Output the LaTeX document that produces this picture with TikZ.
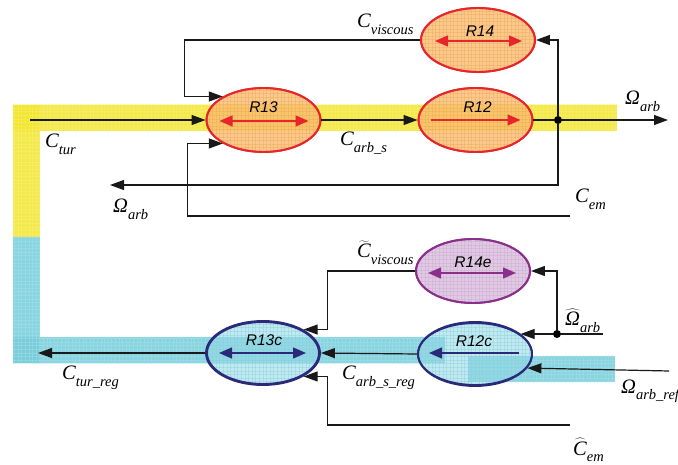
\documentclass[tikz,border=0pt]{standalone}
\usepackage{fontspec}
\newfontfamily\rsans{Liberation Sans}
\newfontfamily\lser{Liberation Serif}
\usetikzlibrary{arrows.meta,shapes.geometric,calc}
\definecolor{redB}{HTML}{E6262B}
\definecolor{orangeF}{HTML}{F9BC72}
\definecolor{orangeG}{HTML}{F0A048}
\definecolor{yelF}{HTML}{F2E52A}
\definecolor{yelG}{HTML}{F8F07A}
\definecolor{cyanF}{HTML}{76CCDA}
\definecolor{cyanG}{HTML}{A8E2EA}
\definecolor{cyanE}{HTML}{9ADBE6}
\definecolor{navy}{HTML}{2B2A7A}
\definecolor{purB}{HTML}{8B2F8B}
\definecolor{purF}{HTML}{DDC4E0}
\definecolor{purG}{HTML}{C9A6CF}
% grid texture over a clipped region: #1 clip path, #2 style, #3 x0, #4 x1, #5 y0, #6 y1
\newcommand{\gridover}[6]{\begin{scope}\clip #1;
  \foreach \gx in {#3,...,#4} {\draw[#2, line width=0.35pt] (\gx*3.6,#5*3.6) -- (\gx*3.6,#6*3.6);}
  \foreach \gy in {#5,...,#6} {\draw[#2, line width=0.35pt] (#3*3.6,\gy*3.6) -- (#4*3.6,\gy*3.6);}
\end{scope}}
\newcommand{\sbs}[1]{\raisebox{-0.33em}{\fontsize{14.5}{14.5}\selectfont #1}}
\newcommand{\ic}{\mbox{\lser\itshape C}}
\newcommand{\iom}{\mbox{\lser\itshape Ω}}
\begin{document}
\begin{tikzpicture}[x=1pt,y=-1pt,
  conn/.style={line width=1.2pt, draw=black!90},
  arr/.style={conn,-{Triangle[length=14pt,width=10pt]}},
  ell/.style={ellipse, minimum width=114pt, minimum height=64pt, inner sep=0pt, line width=1.9pt},
  oell/.style={ell, draw=redB, fill=orangeF, fill opacity=0.8},
  cell/.style={ell, draw=navy, fill=cyanE, fill opacity=0.6},
  pell/.style={ell, draw=purB, fill=purF, fill opacity=0.9},
  lab/.style={anchor=base west, inner sep=0pt, font=\lser\itshape\fontsize{20.5}{21}\selectfont},
  rlab/.style={font=\rsans\itshape\fontsize{15.5}{15.5}\selectfont, inner sep=0pt},
  dbl/.style={line width=1.5pt, {Triangle[length=13pt,width=11pt]}-{Triangle[length=13pt,width=11pt]}},
  sgl/.style={line width=1.5pt, -{Triangle[length=13pt,width=11pt]}},
  dot/.style={circle, fill=black, inner sep=0pt, minimum size=8pt},
]
\useasboundingbox (0,0) rectangle (678,465);
% bands
\fill[yelF, fill opacity=0.85] (13,105) rectangle (617,131);
\fill[yelF, fill opacity=0.85] (13,105) rectangle (40,237);
\fill[cyanF, fill opacity=0.85] (13,237) rectangle (40,363);
\fill[cyanF, fill opacity=0.85] (13,337) rectangle (445,363);
\fill[cyanF, fill opacity=0.85] (468,356) rectangle (615,382);
\gridover{(13,105) rectangle (617,131)}{yelG, opacity=0.45}{3}{172}{29}{37}
\gridover{(13,131) rectangle (40,237)}{yelG, opacity=0.45}{3}{12}{36}{66}
\gridover{(13,237) rectangle (40,363)}{cyanG, opacity=0.4}{3}{12}{65}{101}
\gridover{(40,337) rectangle (445,363)}{cyanG, opacity=0.4}{11}{124}{93}{101}
\gridover{(468,356) rectangle (615,382)}{cyanG, opacity=0.4}{130}{171}{98}{107}
% ellipses
\node[oell] (R13) at (263.5,120) {};
\node[oell] (R12) at (475.5,120) {};
\node[oell] (R14) at (478,40) {};
\node[cell] (R13c) at (263,353) {};
\node[cell] (R12c) at (475,354) {};
\node[pell] (R14e) at (473,271) {};
\gridover{(R13.center) ellipse [x radius=56, y radius=31]}{orangeG, opacity=0.35}{57}{90}{24}{43}
\gridover{(R12.center) ellipse [x radius=56, y radius=31]}{orangeG, opacity=0.35}{115}{149}{24}{43}
\gridover{(R14.center) ellipse [x radius=56, y radius=31]}{orangeG, opacity=0.35}{116}{150}{1}{21}
\gridover{(R13c.center) ellipse [x radius=56, y radius=31]}{cyanF, opacity=0.35}{57}{90}{88}{107}
\gridover{(R12c.center) ellipse [x radius=56, y radius=31]}{cyanF, opacity=0.35}{115}{149}{88}{107}
\gridover{(R14e.center) ellipse [x radius=56, y radius=31]}{purG, opacity=0.4}{115}{148}{65}{84}
\draw[redB, line width=1.9pt] (R13.center) ellipse [x radius=57, y radius=32];
\draw[redB, line width=1.9pt] (R12.center) ellipse [x radius=57, y radius=32];
\draw[redB, line width=1.9pt] (R14.center) ellipse [x radius=57, y radius=32];
\draw[navy, line width=1.9pt] (R13c.center) ellipse [x radius=56, y radius=31];
\draw[navy, line width=1.9pt] (R12c.center) ellipse [x radius=57, y radius=31];
\draw[purB, line width=1.9pt] (R14e.center) ellipse [x radius=57, y radius=32];
% ellipse labels
\node[rlab] (R13l) at ([yshift=13pt]R13.center) {R13};
\node[rlab] (R12l) at ([yshift=13pt,xshift=2pt]R12.center) {R12};
\node[rlab] (R14l) at ([yshift=9pt,xshift=2pt]R14.center) {R14};
\node[rlab] (R13cl) at ([yshift=13pt,xshift=1pt]R13c.center) {R13c};
\node[rlab] (R12cl) at ([yshift=13pt,xshift=-1pt]R12c.center) {R12c};
\node[rlab] (R14el) at ([yshift=9pt]R14e.center) {R14e};
% inner arrows
\draw[dbl, redB] ([xshift=-44pt,yshift=-1pt]R13.center) -- ([xshift=45pt,yshift=-1pt]R13.center);
\draw[sgl, redB] ([xshift=-45pt]R12.center) -- ([xshift=45pt]R12.center);
\draw[dbl, redB] ([xshift=-43pt,yshift=-1pt]R14.center) -- ([xshift=44pt,yshift=-1pt]R14.center);
\draw[dbl, navy] ([xshift=-44pt]R13c.center) -- ([xshift=43pt]R13c.center);
\draw[sgl, navy] ([xshift=44pt,yshift=1pt]R12c.center) -- ([xshift=-46pt,yshift=1pt]R12c.center);
\draw[dbl, purB] ([xshift=-45pt,yshift=-2pt]R14e.center) -- ([xshift=43pt,yshift=-2pt]R14e.center);
% coordinates
\coordinate (ctur) at (30,120);
\coordinate (oarb) at (668,120);
\coordinate (oleft) at (110,185);
\coordinate (cem) at (570,216);
\coordinate (ohat) at (603,334);
\coordinate (oref) at (669,371);
\coordinate (cemh) at (570,425);
\coordinate (ctreg) at (38,353);
\node[dot] (J) at (558,120) {};
\node[dot] (J2) at (557,334) {};
% top connectors
\draw[arr] (ctur) -- (R13.west);
\draw[arr] (R13.east) -- (R12.west);
\draw[conn] (R12.east) -- (J);
\draw[arr] (J) -- (oarb);
\draw[arr] (J) |- (R14.east);
\draw[arr] (J) |- (oleft);
\draw[arr] (R14.west) -| ([xshift=-38pt]R13.150) -- (R13.150);
\draw[arr] (cem) -| ([xshift=-35pt]R13.210) -- (R13.210);
% bottom connectors
\draw[arr] (R13c.west) -- (ctreg);
\draw[arr] (R12c.west) -- (R13c.east);
\draw[conn] (ohat) -- (J2);
\draw[arr] (J2) -- (J2 -| R12c.24);
\draw[arr] (J2) |- (R14e.east);
\draw[arr] (oref) -- (R12c.345);
\draw[arr] (R14e.west) -| ([xshift=24pt]R13c.30) -- (R13c.30);
\draw[arr] (cemh) -| ([xshift=24pt]R13c.330) -- (R13c.330);
% labels
\node[lab] (Lcv) at (357,28) {C\sbs{viscous}};
\node[lab] (Lct) at (45,148) {C\sbs{tur}};
\node[lab] (Lcas) at (340,146) {C\sbs{arb\_s}};
\node[lab] (Loa1) at (113,213) {Ω\sbs{arb}};
\node[lab] (Lcem) at (575,203) {C\sbs{em}};
\node[lab] (Loa2) at (625,105) {Ω\sbs{arb}};
\node[lab] (Lcvt) at (357,258) {$\widetilde{\ic}$\sbs{viscous}};
\node[lab] (Loah) at (565,326) {$\widehat{\iom}$\sbs{arb}};
\node[lab] (Lctr) at (62,380) {C\sbs{tur\_reg}};
\node[lab] (Lcasr) at (342,380) {C\sbs{arb\_s\_reg}};
\node[lab] (Lore) at (621,393) {Ω\sbs{arb\_ref}};
\node[lab] (Lcemh) at (573,455) {$\widehat{\ic}$\sbs{em}};
\end{tikzpicture}
\end{document}
